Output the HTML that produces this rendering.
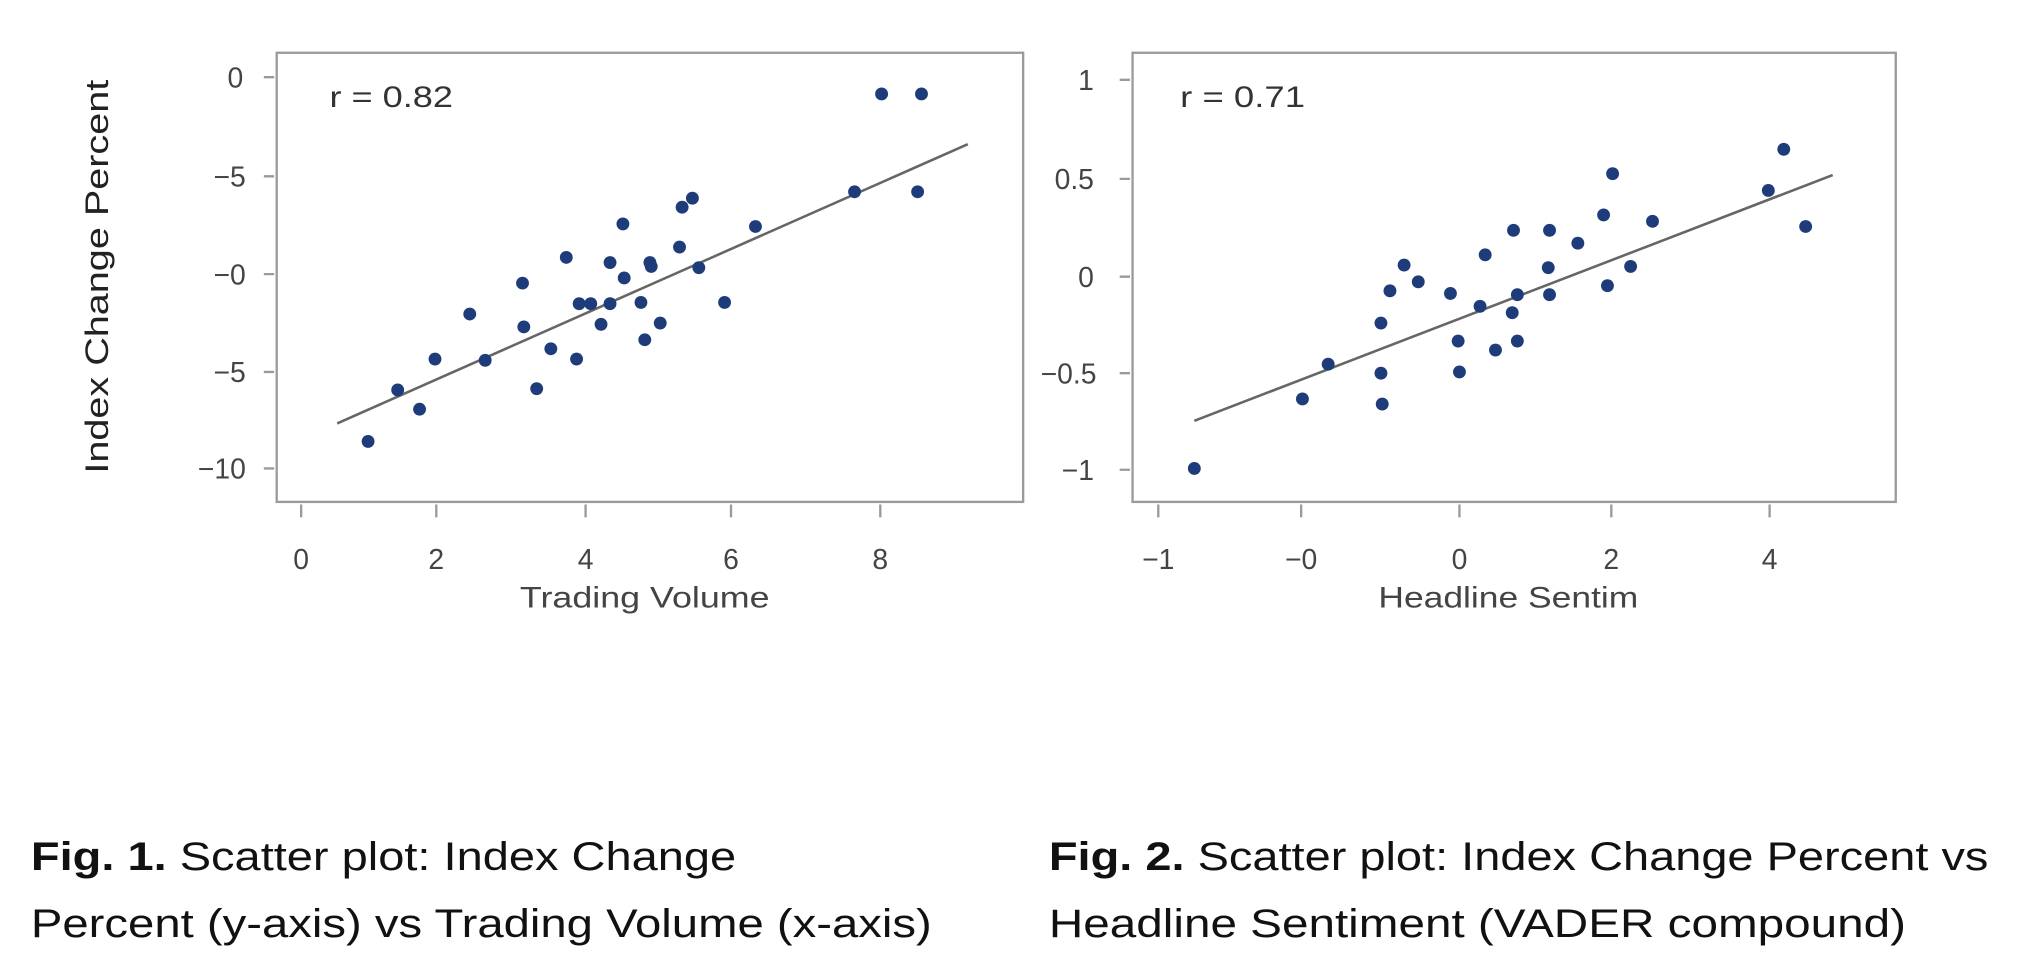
<!DOCTYPE html>
<html><head><style>html,body{margin:0;padding:0;background:#fff;}svg{display:block}</style></head><body>
<svg width="2018" height="980" viewBox="0 0 1568 761.5" preserveAspectRatio="none" xmlns="http://www.w3.org/2000/svg" font-family="Liberation Sans, sans-serif">
<rect width="1568" height="761.5" fill="#fff"/>
<g stroke="#9a9a9a" stroke-width="1.8" fill="none">
<rect x="215" y="41" width="580" height="349"/>
<path d="M205 60H213M205 137H213M205 213H213M205 289H213M205 364H213"/>
<path d="M234 392V402M339 392V402M455 392V402M568 392V402M684 392V402"/>
<rect x="880" y="41" width="593" height="349"/>
<path d="M870 62H878M870 139H878M870 215H878M870 290H878M870 365H878"/>
<path d="M900 392V402M1011 392V402M1134 392V402M1252 392V402M1375 392V402"/>
</g>
<g fill="#444" font-size="22" text-anchor="end">
<text x="189" y="68">0</text><text x="191" y="145">−5</text><text x="191" y="221">−0</text><text x="191" y="297">−5</text><text x="191" y="372">−10</text>
<text x="850" y="70">1</text><text x="850" y="147">0.5</text><text x="850" y="223">0</text><text x="852" y="298">−0.5</text><text x="850" y="373">−1</text>
</g>
<g fill="#444" font-size="22" text-anchor="middle">
<text x="234" y="442">0</text><text x="339" y="442">2</text><text x="455" y="442">4</text><text x="568" y="442">6</text><text x="684" y="442">8</text>
<text x="900" y="442">−1</text><text x="1011" y="442">−0</text><text x="1134" y="442">0</text><text x="1252" y="442">2</text><text x="1375" y="442">4</text>
</g>
<text x="404" y="472" font-size="23" fill="#444" textLength="194" lengthAdjust="spacingAndGlyphs">Trading Volume</text>
<text x="1071" y="472" font-size="23" fill="#444" textLength="202" lengthAdjust="spacingAndGlyphs">Headline Sentim</text>
<text transform="translate(84,368) rotate(-90)" font-size="25" fill="#222" textLength="306" lengthAdjust="spacingAndGlyphs">Index Change Percent</text>
<text x="256" y="83" font-size="23" fill="#333" textLength="96" lengthAdjust="spacingAndGlyphs">r = 0.82</text>
<text x="917" y="83" font-size="23" fill="#333" textLength="97" lengthAdjust="spacingAndGlyphs">r = 0.71</text>
<line x1="262" y1="329" x2="752" y2="112" stroke="#666" stroke-width="2"/>
<line x1="928" y1="327" x2="1424" y2="136" stroke="#666" stroke-width="2"/>
<g fill="#1f3c7a">
<circle cx="286" cy="343" r="5"/><circle cx="309" cy="303" r="5"/><circle cx="326" cy="318" r="5"/><circle cx="338" cy="279" r="5"/><circle cx="365" cy="244" r="5"/><circle cx="377" cy="280" r="5"/><circle cx="406" cy="220" r="5"/><circle cx="407" cy="254" r="5"/><circle cx="417" cy="302" r="5"/><circle cx="428" cy="271" r="5"/><circle cx="440" cy="200" r="5"/><circle cx="448" cy="279" r="5"/><circle cx="450" cy="236" r="5"/><circle cx="459" cy="236" r="5"/><circle cx="467" cy="252" r="5"/><circle cx="474" cy="204" r="5"/><circle cx="474" cy="236" r="5"/><circle cx="484" cy="174" r="5"/><circle cx="485" cy="216" r="5"/><circle cx="498" cy="235" r="5"/><circle cx="501" cy="264" r="5"/><circle cx="505" cy="204" r="5"/><circle cx="506" cy="207" r="5"/><circle cx="513" cy="251" r="5"/><circle cx="528" cy="192" r="5"/><circle cx="530" cy="161" r="5"/><circle cx="538" cy="154" r="5"/><circle cx="543" cy="208" r="5"/><circle cx="563" cy="235" r="5"/><circle cx="587" cy="176" r="5"/><circle cx="664" cy="149" r="5"/><circle cx="685" cy="73" r="5"/><circle cx="713" cy="149" r="5"/><circle cx="716" cy="73" r="5"/>
<circle cx="928" cy="364" r="5"/><circle cx="1012" cy="310" r="5"/><circle cx="1032" cy="283" r="5"/><circle cx="1073" cy="290" r="5"/><circle cx="1073" cy="251" r="5"/><circle cx="1074" cy="314" r="5"/><circle cx="1080" cy="226" r="5"/><circle cx="1102" cy="219" r="5"/><circle cx="1091" cy="206" r="5"/><circle cx="1127" cy="228" r="5"/><circle cx="1133" cy="265" r="5"/><circle cx="1134" cy="289" r="5"/><circle cx="1150" cy="238" r="5"/><circle cx="1154" cy="198" r="5"/><circle cx="1162" cy="272" r="5"/><circle cx="1175" cy="243" r="5"/><circle cx="1176" cy="179" r="5"/><circle cx="1179" cy="229" r="5"/><circle cx="1179" cy="265" r="5"/><circle cx="1203" cy="208" r="5"/><circle cx="1204" cy="179" r="5"/><circle cx="1204" cy="229" r="5"/><circle cx="1226" cy="189" r="5"/><circle cx="1246" cy="167" r="5"/><circle cx="1249" cy="222" r="5"/><circle cx="1253" cy="135" r="5"/><circle cx="1267" cy="207" r="5"/><circle cx="1284" cy="172" r="5"/><circle cx="1374" cy="148" r="5"/><circle cx="1386" cy="116" r="5"/><circle cx="1403" cy="176" r="5"/>
</g>
<g fill="#111" font-size="31">
<text x="24" y="676" textLength="548" lengthAdjust="spacingAndGlyphs"><tspan font-weight="bold">Fig. 1.</tspan> Scatter plot: Index Change</text>
<text x="24" y="728" textLength="700" lengthAdjust="spacingAndGlyphs">Percent (y-axis) vs Trading Volume (x-axis)</text>
<text x="815" y="676" textLength="730" lengthAdjust="spacingAndGlyphs"><tspan font-weight="bold">Fig. 2.</tspan> Scatter plot: Index Change Percent vs</text>
<text x="815" y="728" textLength="666" lengthAdjust="spacingAndGlyphs">Headline Sentiment (VADER compound)</text>
</g>
</svg>
</body></html>
